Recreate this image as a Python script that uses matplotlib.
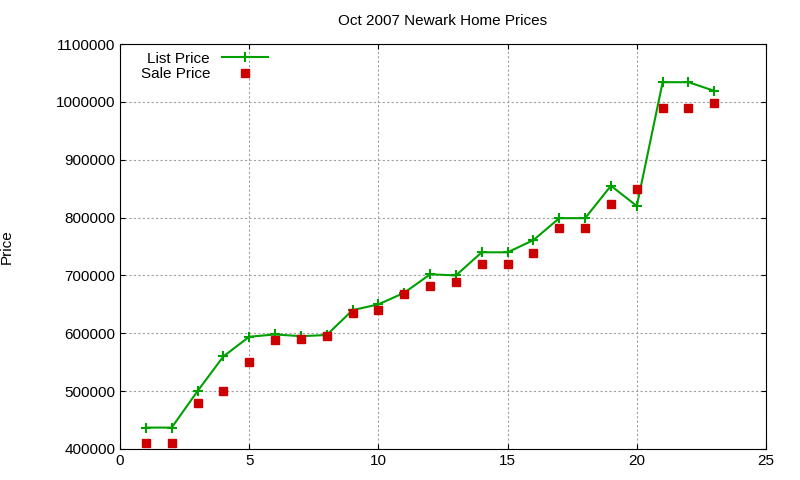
import matplotlib
matplotlib.use("Agg")
import matplotlib.pyplot as plt
from matplotlib.ticker import FormatStrFormatter

x = list(range(1, 24))
list_price = [437000, 437000, 500000, 560000, 594000, 598000, 595000, 597000, 640000, 650000,
              670000, 702000, 700000, 740000, 740000, 761000, 799000, 799000, 855000, 820000,
              1034000, 1034000, 1019000]
sale_price = [410000, 410000, 480000, 500000, 550000, 589000, 590000, 595000, 635000, 640000,
              668000, 682000, 689000, 720000, 720000, 739000, 782000, 782000, 824000, 850000,
              990000, 990000, 998000]

plt.rcParams['font.family'] = ['Liberation Sans', 'DejaVu Sans']
fig = plt.figure(figsize=(8, 4.8), dpi=100)
ax = fig.add_axes([0.15, 0.0646, 0.8075, 0.8437])
ax.plot(x, list_price, color='#00a000', marker='+', markersize=7, mew=1.5, lw=1.5, label='List Price')
ax.plot(x, sale_price, ls='none', marker='s', color='#cc0000', markersize=5.5, label='Sale Price')
ax.set_xlim(0, 25)
ax.set_ylim(400000, 1100000)
ax.set_xticks(range(0, 26, 5))
ax.set_yticks(range(400000, 1100001, 100000))
ax.yaxis.set_major_formatter(FormatStrFormatter('%d'))
ax.grid(True, color='#a0a0a0', ls=(0, (2, 2)), lw=0.8)
ax.tick_params(direction='in', top=True, right=True, labelsize=11)
ax.set_ylabel('Price', fontsize=11)
ax.yaxis.set_label_coords(-0.165, 0.5)
ax.set_title('Oct 2007 Newark Home Prices', fontsize=11, pad=14)
ax.legend(loc='upper left', frameon=False, markerfirst=False, fontsize=11,
          borderaxespad=0.1, handlelength=3, labelspacing=0.1, bbox_to_anchor=(0.02, 1.0))
fig.savefig('out.png')
